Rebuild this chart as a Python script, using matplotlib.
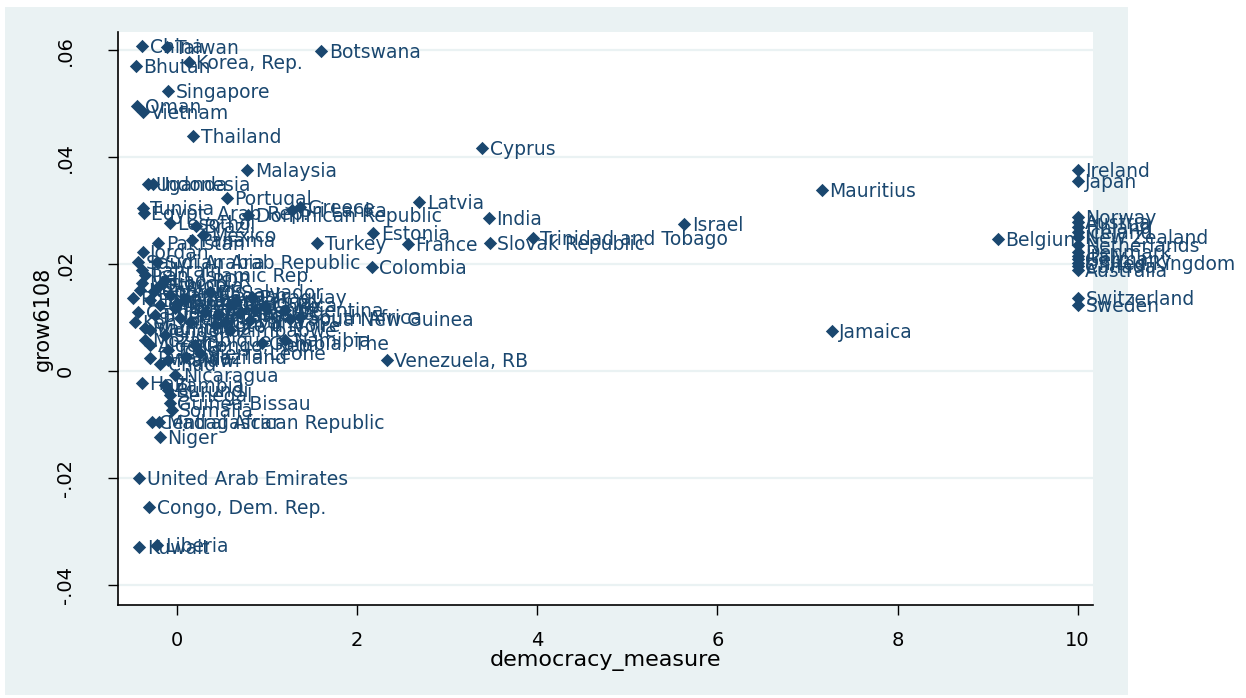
import matplotlib
matplotlib.use("Agg")
import matplotlib.pyplot as plt
from matplotlib.patches import Rectangle

# country labels, democracy_measure (x) and grow6108 (y)
countries = [
    "China", "Taiwan", "Botswana", "Bhutan", "Korea, Rep.", "Singapore", "Oman",
    "Vietnam", "Thailand", "Cyprus", "Malaysia", "Uganda", "Indonesia", "Portugal",
    "Latvia", "Ireland", "Japan", "Mauritius", "India", "Israel", "Tunisia",
    "Egypt, Arab Rep.", "Greece", "Sri Lanka", "Brazil", "Dominican Republic",
    "Lesotho", "Estonia", "Turkey", "France", "Slovak Republic",
    "Trinidad and Tobago", "Belgium", "Colombia", "Norway", "Austria", "Finland",
    "Iceland", "New Zealand", "Netherlands", "Denmark", "Italy", "Germany",
    "United Kingdom", "Canada", "Australia", "Switzerland", "Sweden", "Jamaica",
    "Namibia", "Venezuela, RB", "South Africa", "Papua New Guinea", "Paraguay",
    "El Salvador", "Gambia, The", "Sierra Leone", "Malawi", "Chad", "Nicaragua",
    "Haiti", "Zambia", "Burundi", "Senegal", "Guinea-Bissau", "Somalia",
    "Central African Republic", "Madagascar", "Niger", "United Arab Emirates",
    "Congo, Dem. Rep.", "Kuwait", "Liberia", "Jordan", "Mexico", "Panama",
    "Pakistan", "Syrian Arab Republic", "Iran, Islamic Rep.", "Saudi Arabia",
    "Bahrain", "Morocco", "Lao PDR", "Ethiopia", "Nepal", "Bangladesh",
    "Philippines", "Ecuador", "Gabon", "Costa Rica", "Guatemala", "Honduras",
    "Chile", "Peru", "Argentina", "Bolivia", "Cameroon", "Burkina Faso", "Benin",
    "Fiji", "Mali", "Kenya", "Guyana", "Cote d'Ivoire", "Mauritania", "Mongolia",
    "Zimbabwe", "Sudan", "Mozambique", "Algeria", "Congo, Rep.", "Togo", "Rwanda",
    "Uruguay", "Tanzania", "Ghana", "Nigeria", "Swaziland", "Comoros",
]
democracy = [
    -0.39, -0.11, 1.60, -0.46, 0.13, -0.10, -0.44,
    -0.38, 0.18, 3.39, 0.78, -0.32, -0.27, 0.55,
    2.69, 10, 10, 7.16, 3.46, 5.63, -0.38,
    -0.37, 1.37, 1.28, 0.21, 0.79,
    -0.08, 2.18, 1.56, 2.56, 3.47,
    3.95, 9.11, 2.16, 10, 10, 10,
    10, 10, 10, 10, 10, 10,
    10, 10, 10, 10, 10, 7.27,
    1.20, 2.33, 1.37, 1.25, 0.83,
    0.37, 0.94, 0.26, -0.10, -0.19, -0.02,
    -0.39, -0.13, -0.10, -0.08, -0.08, -0.06,
    -0.28, -0.20, -0.19, -0.42,
    -0.31, -0.42, -0.22, -0.38, 0.29, 0.17,
    -0.21, -0.22, -0.36, -0.43,
    -0.39, -0.39, -0.13, -0.19, -0.41, -0.08,
    -0.49, -0.30, 0.09, 0.59, -0.19, -0.02,
    0.98, 0.87, 1.20, 0.31, -0.43, -0.24, 0.03,
    0.81, 0.14, -0.47, 0.53, 0.42, -0.36, -0.30,
    0.59, -0.13, -0.36, -0.30, 0.20, -0.10, -0.30,
    0.65, 0.00, 0.45, 0.70, 0.10, -0.25,
]
growth = [
    0.0607, 0.0606, 0.0598, 0.0570, 0.0578, 0.0523, 0.0495,
    0.0484, 0.0439, 0.0417, 0.0376, 0.0350, 0.0350, 0.0323,
    0.0316, 0.0376, 0.0355, 0.0338, 0.0286, 0.0275, 0.0305,
    0.0295, 0.0307, 0.0301, 0.0271, 0.0292,
    0.0277, 0.0258, 0.0239, 0.0237, 0.0239,
    0.0249, 0.0247, 0.0194, 0.0288, 0.0279, 0.0269,
    0.0260, 0.0250, 0.0236, 0.0222, 0.0215, 0.0209,
    0.0202, 0.0196, 0.0189, 0.0136, 0.0123, 0.0075,
    0.0058, 0.0021, 0.0101, 0.0097, 0.0138,
    0.0148, 0.0052, 0.0034, 0.0021, 0.0013, -0.0007,
    -0.0022, -0.0026, -0.0036, -0.0045, -0.0060, -0.0073,
    -0.0095, -0.0095, -0.0123, -0.0200,
    -0.0254, -0.0329, -0.0325, 0.0222, 0.0254, 0.0245,
    0.0239, 0.0204, 0.0179, 0.0204,
    0.0189, 0.0164, 0.0170, 0.0161, 0.0151, 0.0142,
    0.0136, 0.0133, 0.0133, 0.0123, 0.0123, 0.0118,
    0.0121, 0.0114, 0.0114, 0.0110, 0.0110, 0.0105, 0.0099,
    0.0095, 0.0092, 0.0092, 0.0092, 0.0086, 0.0080, 0.0077,
    0.0077, 0.0067, 0.0058, 0.0049, 0.0049, 0.0039, 0.0024,
    0.0130, 0.0128, 0.0105, 0.0108, 0.0026, 0.0150,
]

x_ticks = [0, 2, 4, 6, 8, 10]
y_ticks = [-0.04, -0.02, 0, 0.02, 0.04, 0.06]
y_tick_labels = ["-.04", "-.02", "0", ".02", ".04", ".06"]

navy = "#1a476f"
bluegray = "#eaf2f3"

plt.rcParams["font.family"] = ["DejaVu Sans"]

fig = plt.figure(figsize=(12.46, 6.98), dpi=100)
fig.patch.set_facecolor("white")
# Stata-like graph region, leaving a white strip on the right
fig.add_artist(Rectangle((0.004, 0.004), 0.901, 0.986, transform=fig.transFigure,
                         facecolor=bluegray, edgecolor="none", zorder=-10))

ax = fig.add_axes([0.0947, 0.1332, 0.7825, 0.8209])
ax.set_zorder(1)
ax.set_facecolor("white")

ax.scatter(democracy, growth, marker="D", s=46, color=navy, zorder=3, linewidths=0)
for name, xv, yv in zip(countries, democracy, growth):
    ax.annotate(name, (xv, yv), xytext=(5.5, -1), textcoords="offset points",
                ha="left", va="center", fontsize=13.5, color=navy, zorder=4)

ax.set_xlim(-0.655, 10.17)
ax.set_ylim(-0.0437, 0.0634)
ax.set_xticks(x_ticks)
ax.set_yticks(y_ticks)
ax.set_yticklabels(y_tick_labels, rotation=90, va="center")
ax.yaxis.grid(True, color=bluegray, linewidth=1.6, zorder=0)
ax.set_axisbelow(True)

for side in ["top", "right"]:
    ax.spines[side].set_visible(False)
for side in ["left", "bottom"]:
    ax.spines[side].set_color("black")
    ax.spines[side].set_linewidth(1.2)

ax.tick_params(axis="x", length=7, width=1, pad=12, labelsize=14, colors="black")
ax.tick_params(axis="y", length=7, width=1, pad=24, labelsize=14, colors="black")

ax.set_xlabel("democracy_measure", fontsize=16, labelpad=0)
ax.set_ylabel("grow6108", fontsize=15, labelpad=2)

fig.savefig("out.png", dpi=100)
